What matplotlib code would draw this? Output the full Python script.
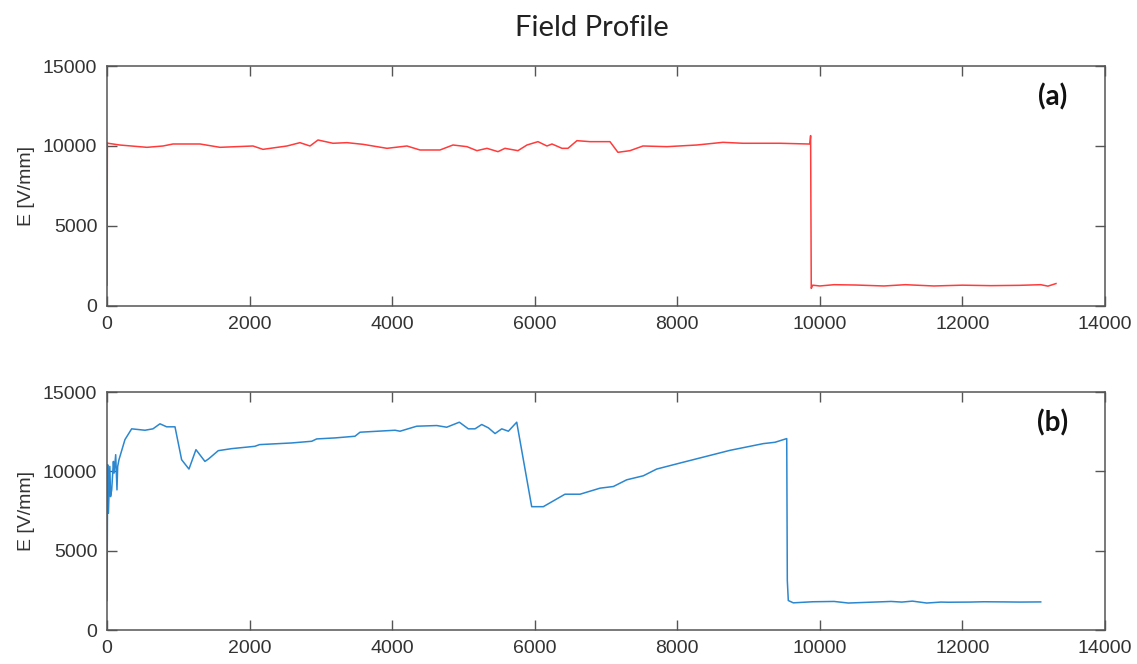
import numpy as np
import matplotlib
matplotlib.use("Agg")
import matplotlib.pyplot as plt

# panel (a) - field profile, red trace
xa = [0, 5, 14, 182, 561, 786, 926, 1305, 1585, 2048, 2188, 2525, 2707, 2848,
      2960, 3170, 3367, 3591, 3928, 4208, 4391, 4671, 4854, 5050, 5190, 5331,
      5485, 5583, 5765, 5892, 6046, 6172, 6243, 6383, 6467, 6593, 6776, 7056,
      7168, 7337, 7519, 7855, 8276, 8641, 8922, 9441, 9834, 9860, 9871, 9880,
      9900, 10000, 10200, 10500, 10900, 11200, 11600, 12000, 12400, 12800,
      13100, 13200, 13313]
ya = [1300, 10200, 10170, 10060, 9917, 10000, 10125, 10125, 9917, 10000, 9790,
      10000, 10208, 10000, 10375, 10170, 10208, 10104, 9854, 10000, 9750, 9750,
      10062, 9958, 9708, 9854, 9646, 9854, 9708, 10062, 10271, 10000, 10125,
      9854, 9854, 10333, 10271, 10271, 9604, 9708, 10000, 9958, 10062, 10229,
      10170, 10170, 10125, 10125, 10650, 1100, 1300, 1250, 1330, 1310, 1250,
      1330, 1250, 1300, 1270, 1290, 1330, 1240, 1400]

# panel (b) - field profile, blue trace
xb = [0, 10, 20, 40, 50, 66, 90, 100, 122, 140, 150, 168, 252, 346, 533, 645,
      743, 837, 954, 1047, 1150, 1248, 1374, 1424, 1561, 1748, 2075, 2140,
      2591, 2872, 2942, 3199, 3479, 3550, 4041, 4111, 4345, 4626, 4766, 4943,
      5069, 5163, 5257, 5351, 5444, 5538, 5631, 5748, 5958, 6121, 6425, 6636,
      6917, 7104, 7291, 7524, 7711, 8039, 8740, 9207, 9372, 9536, 9544, 9558,
      9628, 9900, 10200, 10400, 10700, 11000, 11150, 11300, 11500, 11700,
      11800, 12100, 12300, 12600, 12800, 13099]
yb = [1858, 10417, 7354, 10310, 8408, 8832, 10626, 9890, 11050, 8832, 10310,
      10733, 12001, 12680, 12591, 12680, 12997, 12807, 12807, 10733, 10144,
      11368, 10626, 10780, 11304, 11431, 11579, 11685, 11790, 11896, 12044,
      12107, 12213, 12467, 12591, 12530, 12845, 12887, 12782, 13098, 12680,
      12680, 12953, 12740, 12382, 12680, 12530, 13098, 7773, 7773, 8559, 8559,
      8940, 9045, 9467, 9720, 10144, 10524, 11325, 11748, 11833, 12065, 3125,
      1858, 1712, 1780, 1800, 1700, 1750, 1800, 1760, 1820, 1700, 1760, 1750,
      1760, 1780, 1770, 1760, 1770]

xticks = np.arange(0, 14001, 2000)
yticks = [0, 5000, 10000, 15000]

fig = plt.figure(figsize=(11.37, 6.64), dpi=100)
fig.text(0.5206, 0.958, "Field Profile", ha="center", va="center",
         fontsize=21, family="Lato", color="#222222")

axes = [fig.add_axes([0.0941, 0.5392, 0.8777, 0.3614]),
        fig.add_axes([0.0941, 0.0512, 0.8777, 0.3584])]

axes[0].plot(xa, ya, color="#ff3b3b", lw=1.1)
axes[1].plot(xb, yb, color="#2b87cf", lw=1.1)

for ax, lab in zip(axes, ["(a)", "(b)"]):
    ax.set_xlim(0, 14000)
    ax.set_ylim(0, 15000)
    ax.set_xticks(xticks)
    ax.set_yticks(yticks)
    ax.tick_params(direction="in", top=True, right=True, length=7, width=1,
                   color="#555555", labelcolor="#333333", labelsize=14, pad=7)
    for t in ax.get_xticklabels() + ax.get_yticklabels():
        t.set_family("Liberation Sans")
    for s in ax.spines.values():
        s.set_color("#555555")
        s.set_linewidth(1.1)
    ax.set_ylabel("E [V/mm]", fontsize=14, family="Liberation Sans",
                  color="#333333", labelpad=6)
    ax.text(0.948, 0.87, lab, transform=ax.transAxes, ha="center", va="center",
            fontsize=20, fontweight="bold", family="Lato", color="#111111")

fig.savefig("out.png", dpi=100)
